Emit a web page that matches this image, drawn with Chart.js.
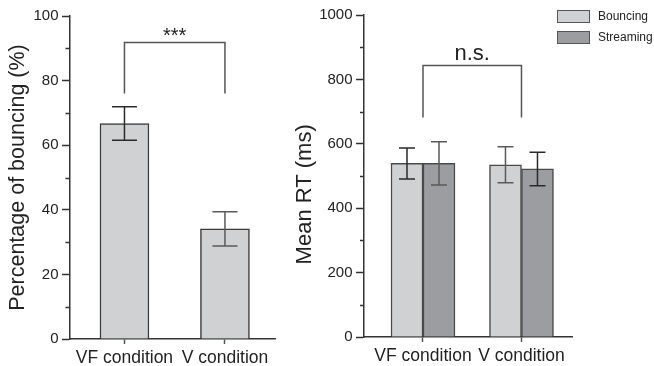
<!DOCTYPE html>
<html lang="en">
<head>
<meta charset="UTF-8">
<title>Bouncing percentage and mean RT</title>
<script src="https://cdn.jsdelivr.net/npm/chart.js"></script>
<style>
    body { margin: 0; background: #fff; }
    #wrap { position: relative; width: 654px; height: 366px; font-family: "Liberation Sans", Arial, sans-serif; }
    canvas { position: absolute; top: 0; }
    #left { left: 0; }
    #right { left: 285px; }
    #legend { position: absolute; left: 557px; top: 10px; }
    .item { position: relative; height: 21px; font-size: 12px; color: #222; }
    .box { position: absolute; left: 0; top: 0; width: 33px; height: 13px; box-sizing: border-box; border: 1px solid #555; }
    .lbl { position: absolute; left: 41px; top: -1px; line-height: 15px; white-space: nowrap; }
</style>
</head>
<body>
<div id="wrap">
    <canvas id="left" width="285" height="366"></canvas>
    <canvas id="right" width="369" height="366"></canvas>
    <div id="legend"></div>
</div>
<script>
const categories = ['VF condition', 'V condition'];

// left panel: percentage of bouncing
const bouncePct = [66.7, 34.1];
const bouncePctErr = [5.2, 5.3];
const pctTicks = [0, 20, 40, 60, 80, 100];
const pctMinor = [10, 30, 50, 70, 90];

// right panel: mean RT
const seriesNames = ['Bouncing', 'Streaming'];
const rtBouncing = [539, 535];
const rtBouncingErr = [48, 56];
const rtStreaming = [539, 522];
const rtStreamingErr = [67, 52];
const rtTicks = [0, 200, 400, 600, 800, 1000];
const rtMinor = [100, 300, 500, 700, 900];

const lightGray = '#d0d1d3';
const darkGray = '#9c9da1';

Chart.defaults.font.family = '"Liberation Sans", Arial, sans-serif';
Chart.defaults.color = '#222';

// error bars, minor ticks and significance bracket
const extras = {
    id: 'extras',
    afterDatasetsDraw(chart, args, opts) {
        const ctx = chart.ctx, xs = chart.scales.x, ys = chart.scales.y;
        ctx.save();
        ctx.lineWidth = 1.5;
        chart.data.datasets.forEach((ds, i) => {
            chart.getDatasetMeta(i).data.forEach((bar, j) => {
                const v = ds.data[j].y, e = ds.errors[j];
                const top = ys.getPixelForValue(v + e);
                const bot = ys.getPixelForValue(v - e);
                const half = opts.cap / 2;
                ctx.strokeStyle = opts.errColors[i][j];
                ctx.beginPath();
                ctx.moveTo(bar.x, top); ctx.lineTo(bar.x, bot);
                ctx.moveTo(bar.x - half, top); ctx.lineTo(bar.x + half, top);
                ctx.moveTo(bar.x - half, bot); ctx.lineTo(bar.x + half, bot);
                ctx.stroke();
            });
        });

        // minor ticks on y axis
        ctx.strokeStyle = '#333';
        ctx.beginPath();
        opts.minor.forEach(v => {
            const py = Math.round(ys.getPixelForValue(v)) + 0.5;
            ctx.moveTo(ys.right - opts.minorLen, py);
            ctx.lineTo(ys.right, py);
        });
        ctx.stroke();

        // bracket
        const b = opts.bracket;
        const x1 = xs.getPixelForValue(b.from), x2 = xs.getPixelForValue(b.to);
        const yTop = Math.round(ys.getPixelForValue(b.top)) + 0.5;
        const yFoot = ys.getPixelForValue(b.foot);
        ctx.strokeStyle = '#555';
        ctx.beginPath();
        ctx.moveTo(x1, yFoot); ctx.lineTo(x1, yTop); ctx.lineTo(x2, yTop); ctx.lineTo(x2, yFoot);
        ctx.stroke();
        ctx.fillStyle = '#222';
        ctx.font = b.font;
        ctx.textAlign = 'center';
        ctx.textBaseline = 'alphabetic';
        ctx.fillText(b.text, (x1 + x2) / 2, yTop - b.lift);
        ctx.restore();
    }
};

function xAxis(min, max, height) {
    return {
        type: 'linear', min: min, max: max, bounds: 'data', offset: false,
        afterBuildTicks: s => { s.ticks = categories.map((c, i) => ({ value: i })); },
        afterFit: s => { s.height = height; },
        border: { color: '#333', width: 1.5 },
        grid: { drawOnChartArea: false, offset: false, tickLength: 5, tickColor: '#555', tickWidth: 1.5 },
        ticks: { callback: v => categories[v], font: { size: 17.5 }, padding: 4, maxRotation: 0, autoSkip: false }
    };
}

function yAxis(max, ticks, width, title, titleSize, titlePad) {
    return {
        min: 0, max: max,
        afterBuildTicks: s => { s.ticks = ticks.map(v => ({ value: v })); },
        afterFit: s => { s.width = width; },
        border: { color: '#333', width: 1.5 },
        grid: { drawOnChartArea: false, tickLength: 8, tickColor: '#333', tickWidth: 1.5 },
        ticks: { callback: v => String(v), font: { size: 15 }, padding: 3.5 },
        title: { display: true, text: title, font: { size: titleSize }, padding: { top: titlePad, bottom: 0 } }
    };
}

new Chart(document.getElementById('left'), {
    type: 'bar',
    data: {
        datasets: [{
            label: 'Percentage of bouncing',
            data: categories.map((c, i) => ({ x: i, y: bouncePct[i] })),
            errors: bouncePctErr,
            backgroundColor: lightGray,
            borderColor: '#3a3a3a',
            borderWidth: 1.5,
            barThickness: 49
        }]
    },
    options: {
        responsive: false,
        animation: false,
        layout: { padding: { top: 16, right: 10, left: 0, bottom: 0 } },
        plugins: {
            legend: { display: false },
            tooltip: { enabled: false },
            extras: {
                cap: 25, minor: pctMinor, minorLen: 4.5,
                errColors: [['#2a2a2a', '#5a5a5a']],
                bracket: { from: 0, to: 1, top: 92, foot: 76, text: '***', font: '20px "Liberation Sans", Arial, sans-serif', lift: 1 }
            }
        },
        scales: {
            x: xAxis(-0.542, 1.498, 27),
            y: yAxis(100, pctTicks, 70, 'Percentage of bouncing (%)', 21.5, 5)
        }
    },
    plugins: [extras]
});

new Chart(document.getElementById('right'), {
    type: 'bar',
    data: {
        datasets: [{
            label: seriesNames[0],
            data: categories.map((c, i) => ({ x: i, y: rtBouncing[i] })),
            errors: rtBouncingErr,
            backgroundColor: lightGray,
            borderColor: '#4a4a4a',
            borderWidth: 1.5,
            barThickness: 32
        }, {
            label: seriesNames[1],
            data: categories.map((c, i) => ({ x: i, y: rtStreaming[i] })),
            errors: rtStreamingErr,
            backgroundColor: darkGray,
            borderColor: '#4a4a4a',
            borderWidth: 1.5,
            barThickness: 32
        }]
    },
    options: {
        responsive: false,
        animation: false,
        layout: { padding: { top: 15, right: 82, left: 0, bottom: 0 } },
        plugins: {
            legend: { display: false },
            tooltip: { enabled: false },
            extras: {
                cap: 16, minor: rtMinor, minorLen: 4,
                errColors: [['#2a2a2a', '#5a5a5a'], ['#5a5a5a', '#2a2a2a']],
                bracket: { from: 0, to: 1, top: 846, foot: 682, text: 'n.s.', font: '22px "Liberation Sans", Arial, sans-serif', lift: 6 }
            }
        },
        scales: {
            x: xAxis(-0.599, 1.513, 29),
            y: yAxis(1000, rtTicks, 79, 'Mean RT (ms)' + '\u00a0'.repeat(6), 22, 7)
        }
    },
    plugins: [extras]
});

// legend
const legend = document.getElementById('legend');
[lightGray, darkGray].forEach((col, i) => {
    const item = document.createElement('div');
    item.className = 'item';
    item.innerHTML = '<span class="box" style="background:' + col + '"></span><span class="lbl">' + seriesNames[i] + '</span>';
    legend.appendChild(item);
});
</script>
</body>
</html>
